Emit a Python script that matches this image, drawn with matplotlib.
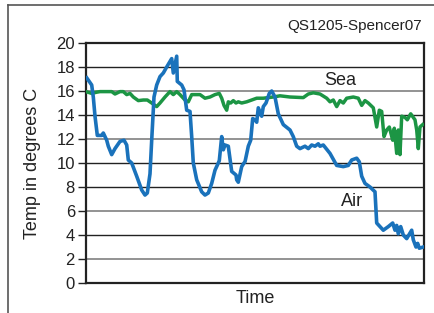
import matplotlib.pyplot as plt
from matplotlib.lines import Line2D

plt.rcParams['font.family'] = ['Liberation Sans', 'DejaVu Sans']

# time in arbitrary units (0 .. 338)
air_t = [0.7, 5.7, 7.3, 9, 11.3, 15.7, 17.3, 20.7, 22.3, 25.7, 29, 34, 38, 40.7, 42.3, 45.7,
         50.7, 55.7, 59, 61.3, 64, 65.7, 68, 70.7, 74, 77.3, 80.7, 85.7, 87.3, 90.7, 91.3,
         95.7, 98, 100.7, 104, 105.7, 107.3, 110.7, 115.7, 119, 122.3, 125.7, 129, 132.3,
         133.3, 135.7, 137.3, 139, 142.3, 145.7, 150, 150.7, 152.3, 155.7, 158, 159, 162.3,
         164.7, 166.7, 169, 170.7, 172.3, 175.7, 177.3, 180, 183.3, 185.7, 189, 192.3, 197.3,
         204, 207.3, 210.7, 214, 219, 222.3, 225.7, 229, 232.3, 234, 237.3, 244, 250.7, 257.3,
         262.3, 265.7, 270.7, 273.3, 275.7, 279, 284, 289, 290.7, 297.3, 302.3, 306.7, 309,
         310.7, 312.3, 314.7, 317.3, 320.7, 325.7, 327.3, 330, 331.7, 333.3, 337.3]
air = [17.1, 16.5, 15.5, 13.9, 12.3, 12.3, 12.5, 11.9, 11.4, 10.7, 11.2, 11.8, 11.9, 11.5,
       10.25, 10.0, 8.9, 7.75, 7.33, 7.5, 9.1, 11.9, 15.5, 16.5, 17.2, 17.5, 18.0, 18.7,
       17.5, 18.9, 16.8, 16.5, 16.1, 14.4, 14.3, 12.2, 10.0, 8.6, 7.6, 7.33, 7.5, 8.3, 9.4,
       10.0, 10.2, 12.2, 11.1, 11.5, 11.4, 9.3, 9.0, 8.6, 8.4, 9.7, 10.0, 10.1, 11.4, 11.9,
       13.7, 13.6, 13.4, 14.6, 13.9, 14.7, 15.0, 15.8, 16.0, 15.5, 14.1, 13.2, 12.75, 12.2,
       11.4, 11.2, 11.4, 11.2, 11.5, 11.4, 11.6, 11.4, 11.5, 10.8, 9.8, 9.7, 9.8, 10.25, 10.4,
       10.1, 8.9, 8.3, 8.0, 7.6, 5.0, 4.4, 4.7, 5.0, 4.4, 4.8, 4.1, 4.7, 4.0, 3.7, 4.4, 3.6,
       3.0, 3.3, 2.9, 3.0]

sea_t = [0, 5.7, 10.7, 14, 20.7, 25.7, 29, 34, 37.3, 40.7, 44, 47.3, 52.3, 57.3, 61.3, 65.7,
         70.7, 74, 79, 84, 87.3, 90.7, 94, 99, 102.3, 105.7, 110.7, 114, 119, 124, 129, 133.3,
         135.7, 138, 140.7, 142.3, 144.7, 147.3, 150, 152.3, 155.7, 160.7, 165.7, 170.7,
         177.3, 187.3, 194, 204, 217.3, 222.3, 227.3, 234, 240.7, 244, 247.3, 250.7, 254,
         257.3, 260.7, 267.3, 272.3, 275.7, 279, 282.3, 287.3, 290.7, 293.3, 295.7, 298,
         300.7, 303.3, 306.7, 308.3, 310.7, 312.3, 314, 315.7, 319, 321.3, 324.7, 329, 330.7,
         332.3, 334, 336.7]
sea = [15.95, 15.8, 15.9, 15.95, 15.95, 15.95, 15.75, 15.95, 15.95, 15.7, 15.8, 15.5, 15.2,
       15.25, 15.25, 15.0, 14.7, 15.0, 15.5, 15.95, 15.7, 15.95, 15.7, 15.25, 15.1, 15.7,
       15.7, 15.7, 15.4, 15.5, 15.7, 15.8, 15.4, 14.8, 14.4, 15.1, 15.0, 15.2, 15.0, 15.1,
       15.0, 15.1, 15.25, 15.4, 15.4, 15.5, 15.6, 15.5, 15.45, 15.75, 15.85, 15.75, 15.4,
       15.1, 15.25, 14.7, 15.2, 15.0, 15.4, 15.5, 15.4, 14.8, 15.2, 15.0, 14.6, 13.0, 14.4,
       14.3, 12.2, 12.75, 13.0, 11.9, 12.9, 10.8, 12.75, 10.7, 13.9, 13.8, 13.6, 14.1, 13.6,
       12.75, 11.2, 13.0, 13.2]

yticks = [0, 2, 4, 6, 8, 10, 12, 14, 16, 18, 20]
grid_dark = [18, 14, 10, 8, 4]
grid_light = [16, 12, 6, 2]

fig = plt.figure(figsize=(4.35, 3.13), dpi=100)
ax = fig.add_axes([0.1977, 0.0958, 0.777, 0.7668])

for g in grid_dark:
    ax.axhline(g, color='#222222', lw=1.0, zorder=1)
for g in grid_light:
    ax.axhline(g, color='#8a8a8a', lw=1.3, zorder=1)

ax.plot(sea_t, sea, color='#1c9544', lw=2.5, solid_joinstyle='round', zorder=3)
ax.plot(air_t, air, color='#1a72bb', lw=2.6, solid_joinstyle='round', zorder=3)

ax.set_xlim(0, 338)
ax.set_ylim(0, 20)
ax.set_yticks(yticks)
ax.set_xticks([])
ax.tick_params(axis='y', labelsize=12, length=6, width=1, pad=2, colors='#222222')
for s in ax.spines.values():
    s.set_color('#222222')
    s.set_linewidth(1.6)

ax.set_ylabel('Temp in degrees C', fontsize=13, labelpad=11, color='#222222')
ax.set_xlabel('Time', fontsize=13, labelpad=5, color='#222222')

ax.text(254, 16.9, 'Sea', fontsize=13, ha='center', va='center', color='#222222')
ax.text(266, 6.8, 'Air', fontsize=13, ha='center', va='center', color='#222222')
fig.text(0.970, 0.917, 'QS1205-Spencer07', fontsize=11, ha='right', va='center', color='#222222')

# outer frame
fig.add_artist(Line2D([0.018, 1.0], [0.984, 0.984], color='#555555', lw=1.2))
fig.add_artist(Line2D([0.018, 0.018], [0.0, 0.984], color='#555555', lw=1.2))

fig.savefig('out.png', dpi=100)
